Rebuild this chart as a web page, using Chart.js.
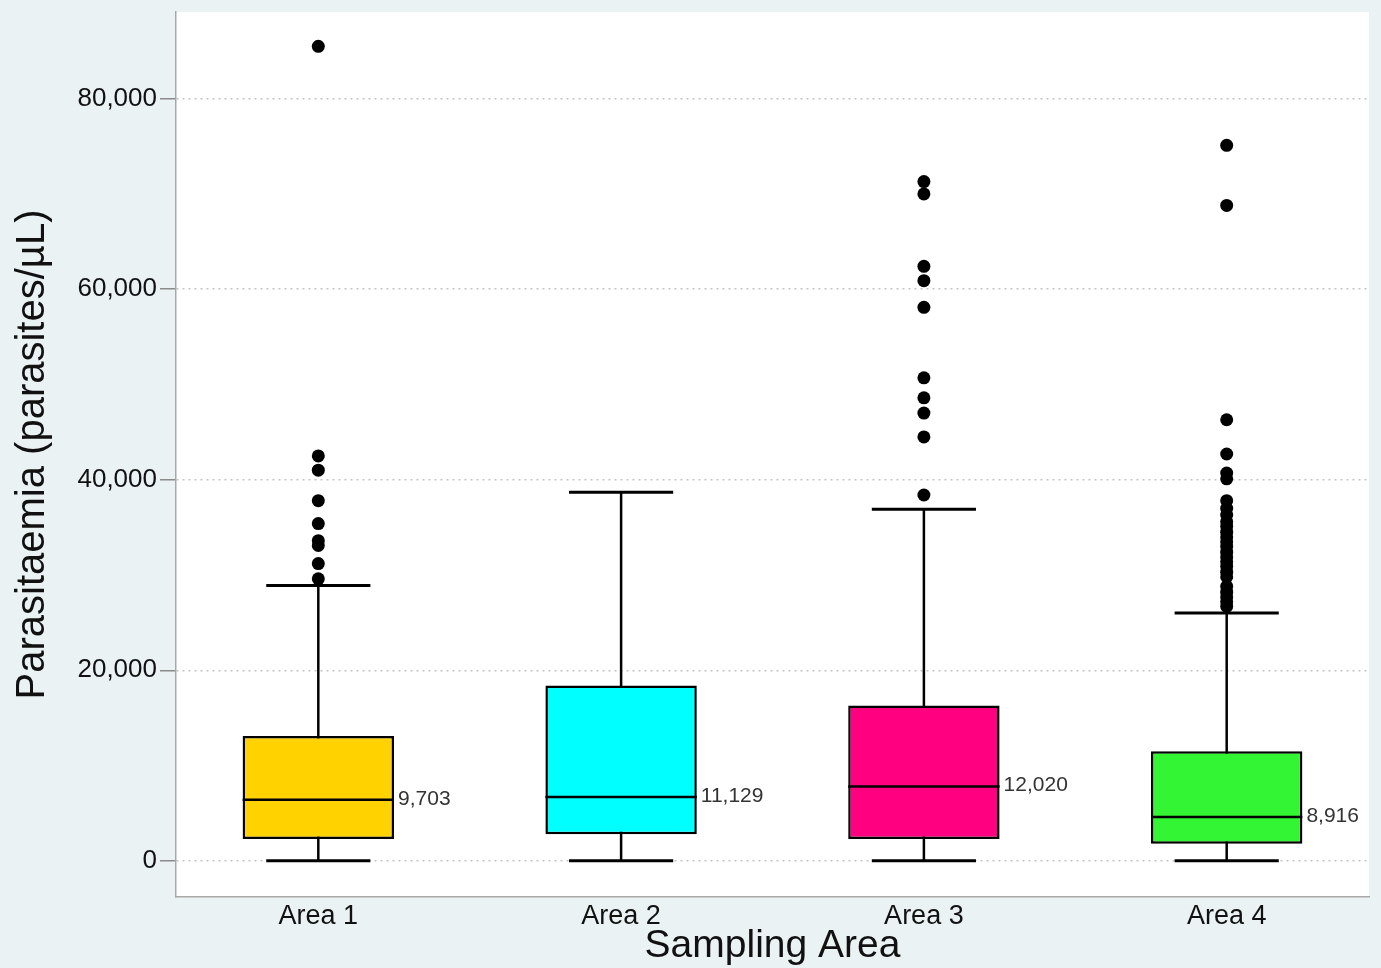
<!DOCTYPE html>
<html>
<head>
    <title>Parasitaemia by Sampling Area</title>
    <script src="https://cdn.jsdelivr.net/npm/chart.js"></script>
    <style>
        html, body { margin: 0; padding: 0; background: #eaf2f3; }
        #wrap { width: 1381px; height: 968px; }
    </style>
</head>
<body>
<div id="wrap"><canvas id="boxChart" width="1381" height="968"></canvas></div>
<script>
    // values
    var categories = ['Area 1', 'Area 2', 'Area 3', 'Area 4'];
    var boxColors = ['#ffd200', '#00ffff', '#ff0080', '#33f533'];
    var q1 = [2300, 2800, 2300, 1800];
    var q3 = [13100, 18400, 16300, 11500];
    var medians = [6400, 6700, 7800, 4600];
    var whiskerLow = [0, 0, 0, 0];
    var whiskerHigh = [28900, 38700, 36900, 26000];
    var meanLabels = ['9,703', '11,129', '12,020', '8,916'];
    var outliersArea1 = [85500, 42500, 41000, 37800, 35400, 33600, 33100, 31200, 29600];
    var outliersArea2 = [];
    var outliersArea3 = [71300, 70000, 62400, 60900, 58100, 50700, 48600, 47000, 44500, 38400];
    var outliersArea4 = [75100, 68800, 46300, 42700, 40700, 40100, 37800, 37000, 36300,
        35600, 35100, 34500, 34000, 33500, 33000, 32400, 31900, 31400, 30900, 30300, 29800,
        28800, 28200, 27700, 27200, 26700];
    var yTicks = [0, 20000, 40000, 60000, 80000];

    var outlierPoints = [];
    [outliersArea1, outliersArea2, outliersArea3, outliersArea4].forEach(function (list, i) {
        list.forEach(function (v) {
            outlierPoints.push({ x: i + 1, y: v });
        });
    });

    var boxData = categories.map(function (c, i) {
        return { x: i + 1, y: [q1[i], q3[i]] };
    });

    var BOX_HALF = 0.25;
    var CAP_HALF = 0.172;

    var backgroundPlugin = {
        id: 'background',
        beforeDraw: function (chart) {
            var ctx = chart.ctx, a = chart.chartArea;
            ctx.save();
            ctx.fillStyle = '#eaf2f3';
            ctx.fillRect(0, 0, chart.width, chart.height);
            ctx.fillStyle = '#ffffff';
            ctx.fillRect(a.left, a.top, a.right - a.left, a.bottom - a.top);
            ctx.restore();
        }
    };

    var boxPlotPlugin = {
        id: 'boxPlot',
        beforeDatasetsDraw: function (chart) {
            var ctx = chart.ctx, x = chart.scales.x, y = chart.scales.y;
            ctx.save();
            ctx.strokeStyle = '#000';
            categories.forEach(function (c, i) {
                var cx = x.getPixelForValue(i + 1);
                var yl = y.getPixelForValue(whiskerLow[i]);
                var yh = y.getPixelForValue(whiskerHigh[i]);
                var cl = x.getPixelForValue(i + 1 - CAP_HALF);
                var cr = x.getPixelForValue(i + 1 + CAP_HALF);
                ctx.lineWidth = 2.5;
                ctx.beginPath();
                ctx.moveTo(cx, yl);
                ctx.lineTo(cx, yh);
                ctx.stroke();
                ctx.lineWidth = 3;
                ctx.beginPath();
                ctx.moveTo(cl, yl);
                ctx.lineTo(cr, yl);
                ctx.moveTo(cl, yh);
                ctx.lineTo(cr, yh);
                ctx.stroke();
            });
            ctx.restore();
        },
        afterDatasetsDraw: function (chart) {
            var ctx = chart.ctx, x = chart.scales.x, y = chart.scales.y;
            ctx.save();
            categories.forEach(function (c, i) {
                var l = x.getPixelForValue(i + 1 - BOX_HALF);
                var r = x.getPixelForValue(i + 1 + BOX_HALF);
                var ym = y.getPixelForValue(medians[i]);
                ctx.strokeStyle = '#000';
                ctx.lineWidth = 2.5;
                ctx.beginPath();
                ctx.moveTo(l, ym);
                ctx.lineTo(r, ym);
                ctx.stroke();
                ctx.fillStyle = '#333';
                ctx.font = '21px "Liberation Sans", Arial, sans-serif';
                ctx.textAlign = 'left';
                ctx.textBaseline = 'middle';
                ctx.fillText(meanLabels[i], r + 4, ym - 1);
            });
            ctx.restore();
        }
    };

    var ctx = document.getElementById('boxChart').getContext('2d');
    var chart = new Chart(ctx, {
        data: {
            datasets: [{
                type: 'bar',
                label: 'IQR',
                data: boxData,
                backgroundColor: boxColors,
                borderColor: '#000',
                borderWidth: 2.5,
                borderSkipped: false,
                barPercentage: 1,
                categoryPercentage: 0.5,
                order: 2
            }, {
                type: 'scatter',
                label: 'Outliers',
                data: outlierPoints,
                backgroundColor: '#000',
                borderWidth: 0,
                pointRadius: 6.5,
                order: 1
            }]
        },
        options: {
            responsive: false,
            animation: false,
            layout: { padding: { top: 12, right: 12, left: 0, bottom: 0 } },
            plugins: {
                legend: { display: false },
                tooltip: { enabled: false }
            },
            scales: {
                x: {
                    type: 'linear',
                    min: 0.53,
                    max: 4.47,
                    offset: false,
                    afterBuildTicks: function (scale) {
                        scale.ticks = categories.map(function (c, i) { return { value: i + 1 }; });
                    },
                    afterFit: function (scale) { scale.height = 71; },
                    grid: { display: false, drawTicks: false },
                    border: { display: true, color: '#a8a8a8', width: 1.5 },
                    ticks: {
                        padding: 3,
                        color: '#111',
                        font: { family: '"Liberation Sans", Arial, sans-serif', size: 27 },
                        callback: function (v) { return categories[v - 1]; }
                    },
                    title: {
                        display: true,
                        text: 'Sampling Area',
                        color: '#111',
                        font: { family: '"Liberation Sans", Arial, sans-serif', size: 39, lineHeight: 1 },
                        padding: { top: 0, bottom: 2 }
                    }
                },
                y: {
                    min: -3800,
                    max: 89100,
                    afterBuildTicks: function (scale) {
                        scale.ticks = yTicks.map(function (v) { return { value: v }; });
                    },
                    afterFit: function (scale) {
                        scale.width = 176;
                        scale.paddingTop = 0;
                        scale.paddingBottom = 0;
                    },
                    grid: {
                        color: '#c4c4c4',
                        lineWidth: 1.5,
                        drawTicks: true,
                        tickLength: 16,
                        tickColor: '#8a8a8a',
                        tickWidth: 1.5
                    },
                    border: { display: true, color: '#a8a8a8', width: 1.5, dash: [2, 4] },
                    ticks: {
                        padding: 3,
                        color: '#111',
                        font: { family: '"Liberation Sans", Arial, sans-serif', size: 26 },
                        callback: function (v) { return v.toLocaleString('en-US'); }
                    },
                    title: {
                        display: true,
                        text: 'Parasitaemia (parasites/µL)',
                        color: '#111',
                        font: { family: '"Liberation Sans", Arial, sans-serif', size: 40, lineHeight: 1 },
                        padding: { top: 13, bottom: 0 }
                    }
                }
            }
        },
        plugins: [backgroundPlugin, boxPlotPlugin]
    });
</script>
</body>
</html>
